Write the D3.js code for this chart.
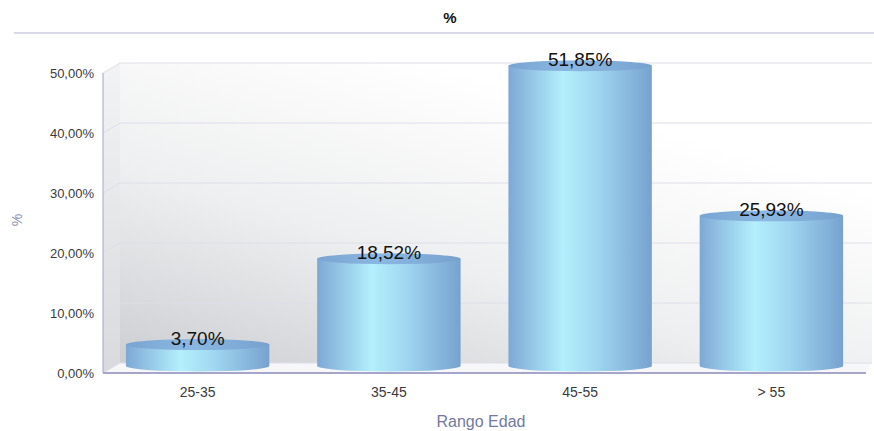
<!DOCTYPE html>
<html>
<head>
<meta charset="utf-8">
<script src="https://cdn.jsdelivr.net/npm/d3@7/dist/d3.min.js"></script>
<style>
  html, body { margin: 0; padding: 0; background: #ffffff; }
  svg { display: block; font-family: "Liberation Sans", Arial, Helvetica, sans-serif; }
</style>
</head>
<body>
<svg id="chart" width="874" height="431"></svg>
<script>
// ---- data ----
const categories = ["25-35", "35-45", "45-55", "> 55"];
const values = [3.70, 18.52, 51.85, 25.93];
const yTicks = [0, 10, 20, 30, 40, 50];
const chartTitle = "%";
const yTitle = "%";
const xTitle = "Rango Edad";

// ---- setup ----
const W = 874, H = 431;
const svg = d3.select("#chart");
const loc = d3.formatLocale({decimal: ",", thousands: ".", grouping: [3], currency: ["", "€"]});
const fmt = loc.format(".2f");

const front = {left: 103, right: 866, top: 73, bottom: 373};
const depth = {dx: 17, dy: -10};
const backRight = 872;

const y = d3.scaleLinear().domain([0, 50]).range([front.bottom, front.top]);
// cylinder (mid-depth projected) scale
const yBar = d3.scaleLinear().domain([0, 50]).range([366, 76.5]);
const x = d3.scaleBand().domain(categories).range([102, 867]).paddingInner(0.25).paddingOuter(0.125);

const defs = svg.append("defs");
const wallGrad = defs.append("linearGradient").attr("id", "wall")
  .attr("x1", 0).attr("y1", 1).attr("x2", 0.62).attr("y2", 0.15);
wallGrad.append("stop").attr("offset", 0).attr("stop-color", "#cdced2");
wallGrad.append("stop").attr("offset", 0.5).attr("stop-color", "#eeeff0");
wallGrad.append("stop").attr("offset", 1).attr("stop-color", "#ffffff");

const sideGrad = defs.append("linearGradient").attr("id", "side")
  .attr("x1", 0).attr("y1", 1).attr("x2", 0).attr("y2", 0);
sideGrad.append("stop").attr("offset", 0).attr("stop-color", "#d9dadd");
sideGrad.append("stop").attr("offset", 1).attr("stop-color", "#f3f3f5");

const bodyGrad = defs.append("linearGradient").attr("id", "body")
  .attr("x1", 0).attr("y1", 0).attr("x2", 1).attr("y2", 0);
bodyGrad.append("stop").attr("offset", 0).attr("stop-color", "#7ea8d5");
bodyGrad.append("stop").attr("offset", 0.38).attr("stop-color", "#b3effc");
bodyGrad.append("stop").attr("offset", 0.6).attr("stop-color", "#a2d9f2");
bodyGrad.append("stop").attr("offset", 1).attr("stop-color", "#77a2cf");

const topGrad = defs.append("linearGradient").attr("id", "top")
  .attr("x1", 0).attr("y1", 0).attr("x2", 1).attr("y2", 0);
topGrad.append("stop").attr("offset", 0).attr("stop-color", "#79a4d2");
topGrad.append("stop").attr("offset", 0.45).attr("stop-color", "#8bb8e2");
topGrad.append("stop").attr("offset", 1).attr("stop-color", "#76a1cf");

// ---- title ----
svg.append("text").attr("x", 450).attr("y", 23).attr("text-anchor", "middle")
  .attr("font-size", 15).attr("font-weight", "bold").attr("fill", "#111").text(chartTitle);
svg.append("line").attr("x1", 14).attr("x2", W).attr("y1", 33).attr("y2", 33)
  .attr("stroke", "#d9d9ea").attr("stroke-width", 2);

// ---- 3D frame ----
const bTop = y(50) + depth.dy, bBot = y(0) + depth.dy;
svg.append("rect").attr("x", front.left + depth.dx).attr("y", bTop)
  .attr("width", backRight - front.left - depth.dx).attr("height", bBot - bTop)
  .attr("fill", "url(#wall)");
svg.append("polygon")
  .attr("points", [[front.left, y(50)], [front.left + depth.dx, bTop], [front.left + depth.dx, bBot], [front.left, y(0)]].join(" "))
  .attr("fill", "url(#side)");
svg.append("polygon")
  .attr("points", [[front.left, y(0)], [front.left + depth.dx, bBot], [backRight, bBot], [front.right, y(0)]].join(" "))
  .attr("fill", "#f7f7f9");

// gridlines
svg.append("g").selectAll("path").data(yTicks).join("path")
  .attr("d", d => `M${front.left},${y(d)}L${front.left + depth.dx},${y(d) + depth.dy}L${backRight},${y(d) + depth.dy}`)
  .attr("fill", "none").attr("stroke", "#dedee9").attr("stroke-width", 1);

// left axis
svg.append("line").attr("x1", front.left).attr("x2", front.left)
  .attr("y1", y(50)).attr("y2", y(0)).attr("stroke", "#a3a5c6").attr("stroke-width", 1);

// y tick labels
svg.append("g").selectAll("text").data(yTicks).join("text")
  .attr("x", 94).attr("y", d => y(d) + 4.5).attr("text-anchor", "end")
  .attr("font-size", 13).attr("fill", "#3a3a3a").text(d => fmt(d) + "%");

// ---- cylinders ----
const ry = 5.5;
const bars = svg.append("g").selectAll("g").data(values).join("g");
bars.each(function(v, i) {
  const g = d3.select(this);
  const x0 = x(categories[i]), bw = x.bandwidth(), rx = bw / 2, cx = x0 + rx;
  const yt = yBar(v), yb = yBar(0);
  g.append("path")
    .attr("d", `M${x0},${yt}L${x0},${yb}A${rx},${ry} 0 0 0 ${x0 + bw},${yb}L${x0 + bw},${yt}Z`)
    .attr("fill", "url(#body)");
  g.append("ellipse").attr("cx", cx).attr("cy", yt).attr("rx", rx).attr("ry", ry)
    .attr("fill", "url(#top)");
  g.append("text").attr("x", cx).attr("y", yt).attr("text-anchor", "middle")
    .attr("font-size", 19).attr("fill", "#111").text(fmt(v) + "%");
});

// bottom axis line
svg.append("line").attr("x1", front.left).attr("x2", front.right)
  .attr("y1", y(0)).attr("y2", y(0)).attr("stroke", "#a6a6cc").attr("stroke-width", 2);

// x labels
svg.append("g").selectAll("text").data(categories).join("text")
  .attr("x", d => x(d) + x.bandwidth() / 2).attr("y", 397).attr("text-anchor", "middle")
  .attr("font-size", 14).attr("fill", "#3a3a3a").text(d => d);

// axis titles
svg.append("text").attr("x", 481).attr("y", 427).attr("text-anchor", "middle")
  .attr("font-size", 16).attr("fill", "#7379a0").text(xTitle);
svg.append("text").attr("transform", "translate(22,220) rotate(-90)").attr("text-anchor", "middle")
  .attr("font-size", 14).attr("fill", "#8a90b2").text(yTitle);
</script>
</body>
</html>
